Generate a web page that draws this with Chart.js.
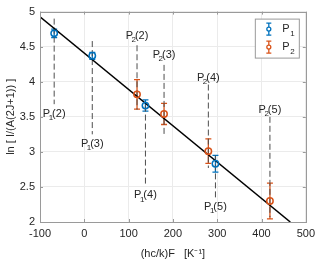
<!DOCTYPE html>
<html>
<head>
<meta charset="utf-8">
<script src="https://cdn.jsdelivr.net/npm/chart.js@4.4.0/dist/chart.umd.min.js"></script>
<style>
  html, body { margin: 0; padding: 0; background: #fff; }
</style>
</head>
<body>
<canvas id="chart" width="320" height="265"></canvas>
<script>
// P1 points
var p1X = [-68, 18, 138, 296];
var p1Y = [4.69, 4.37, 3.66, 2.83];
var p1Err = [0.06, 0.05, 0.08, 0.12];
var p1Names = ['2', '3', '4', '5'];
var p1DashTop = [4.90, 4.58, 3.66, 2.95];
var p1DashBot = [3.68, 3.25, 2.52, 2.31];
var p1LabelY = [3.54, 3.11, 2.38, 2.21];

// P2 points
var p2X = [119, 180, 280, 419];
var p2Y = [3.82, 3.54, 3.01, 2.30];
var p2Err = [0.21, 0.15, 0.175, 0.255];
var p2Names = ['2', '3', '4', '5'];
var p2DashTop = [4.52, 4.24, 3.96, 3.50];
var p2DashBot = [3.60, 3.25, 2.77, 2.07];
var p2LabelY = [4.65, 4.38, 4.06, 3.60];

// linear fit
var fitX = [-100, 465];
var fitY = [4.925, 2.0];

var xTicks = [-100, 0, 100, 200, 300, 400, 500];
var yTicks = [2, 2.5, 3, 3.5, 4, 4.5, 5];

var blue = '#0072BD';
var orange = '#D95319';
var textColor = '#262626';
var boxColor = '#9a9a9a';
var fontFam = "'Liberation Sans', Arial, sans-serif";

function pts(xs, ys) {
  return xs.map(function (x, i) { return { x: x, y: ys[i] }; });
}

var datasets = [];

// dashed guide lines
function addDashes(xs, tops, bots) {
  for (var i = 0; i < xs.length; i++) {
    datasets.push({
      data: [{ x: xs[i], y: tops[i] }, { x: xs[i], y: bots[i] }],
      showLine: true,
      borderColor: '#4d4d4d',
      borderWidth: 1,
      borderDash: [6, 3],
      pointRadius: 0,
      order: 5
    });
  }
}
addDashes(p1X, p1DashTop, p1DashBot);
addDashes(p2X, p2DashTop, p2DashBot);

datasets.push({
  data: pts(fitX, fitY),
  showLine: true,
  borderColor: '#000',
  borderWidth: 1.5,
  pointRadius: 0,
  order: 4
});

datasets.push({
  label: 'P1',
  data: pts(p1X, p1Y),
  borderColor: blue,
  backgroundColor: 'rgba(0,0,0,0)',
  pointRadius: 3.2,
  pointBorderWidth: 1.5,
  showLine: false,
  order: 1
});
datasets.push({
  label: 'P2',
  data: pts(p2X, p2Y),
  borderColor: orange,
  backgroundColor: 'rgba(0,0,0,0)',
  pointRadius: 3.2,
  pointBorderWidth: 1.5,
  showLine: false,
  order: 1
});

// draws "P" + subscript + rest, centred on cx
function subText(ctx, cx, cy, sub, rest, size, tight) {
  ctx.font = size + 'px ' + fontFam;
  var wP = ctx.measureText('P').width;
  var wR = ctx.measureText(rest).width;
  ctx.font = (size - 3) + 'px ' + fontFam;
  var wS = ctx.measureText(sub).width;
  var subOff = tight ? wP - 1.5 : wP + 0.5;
  var restOff = tight ? wP + wS - 2.5 : wP + wS + 1;
  var total = restOff + wR;
  var x0 = cx - total / 2;
  ctx.textBaseline = 'middle';
  ctx.textAlign = 'left';
  ctx.fillStyle = textColor;
  ctx.font = size + 'px ' + fontFam;
  ctx.fillText('P', x0, cy);
  ctx.fillText(rest, x0 + restOff, cy);
  ctx.font = (size - 3) + 'px ' + fontFam;
  ctx.fillText(sub, x0 + subOff, cy + 4);
}

function drawErrBar(ctx, x, yTop, yBot, color, cap) {
  ctx.strokeStyle = color;
  ctx.lineWidth = 1.3;
  ctx.beginPath();
  ctx.moveTo(x, yTop); ctx.lineTo(x, yBot);
  ctx.moveTo(x - cap, yTop); ctx.lineTo(x + cap, yTop);
  ctx.moveTo(x - cap, yBot); ctx.lineTo(x + cap, yBot);
  ctx.stroke();
}

var extras = {
  id: 'extras',
  beforeDatasetsDraw: function (chart) {
    var ctx = chart.ctx, xs = chart.scales.x, ys = chart.scales.y;
    ctx.save();
    [[p1X, p1Y, p1Err, blue], [p2X, p2Y, p2Err, orange]].forEach(function (s) {
      for (var i = 0; i < s[0].length; i++) {
        var px = xs.getPixelForValue(s[0][i]);
        drawErrBar(ctx, px, ys.getPixelForValue(s[1][i] + s[2][i]),
          ys.getPixelForValue(s[1][i] - s[2][i]), s[3], 3);
      }
    });
    ctx.restore();
  },
  afterDatasetsDraw: function (chart) {
    var ctx = chart.ctx, xs = chart.scales.x, ys = chart.scales.y;
    var a = chart.chartArea;
    ctx.save();
    // point labels
    for (var i = 0; i < p1X.length; i++) {
      subText(ctx, xs.getPixelForValue(p1X[i]), ys.getPixelForValue(p1LabelY[i]), '1', '(' + p1Names[i] + ')', 11, true);
      subText(ctx, xs.getPixelForValue(p2X[i]), ys.getPixelForValue(p2LabelY[i]), '2', '(' + p2Names[i] + ')', 11, true);
    }
    // axes box and inward ticks
    ctx.strokeStyle = boxColor;
    ctx.lineWidth = 1;
    ctx.strokeRect(Math.round(a.left) + 0.5, Math.round(a.top) + 0.5,
      Math.round(a.right - a.left), Math.round(a.bottom - a.top));
    ctx.beginPath();
    xTicks.forEach(function (v) {
      var px = Math.round(xs.getPixelForValue(v)) + 0.5;
      ctx.moveTo(px, a.bottom); ctx.lineTo(px, a.bottom - 3);
      ctx.moveTo(px, a.top); ctx.lineTo(px, a.top + 3);
    });
    yTicks.forEach(function (v) {
      var py = Math.round(ys.getPixelForValue(v)) + 0.5;
      ctx.moveTo(a.left, py); ctx.lineTo(a.left + 3, py);
      ctx.moveTo(a.right, py); ctx.lineTo(a.right - 3, py);
    });
    ctx.stroke();
    // legend
    var lx = a.right - 50.5, ly = a.top + 7.5, lw = 44, lh = 39;
    ctx.fillStyle = '#fff';
    ctx.fillRect(lx, ly, lw, lh);
    ctx.strokeStyle = '#999';
    ctx.strokeRect(lx, ly, lw, lh);
    [[blue, '1', 10], [orange, '2', 28]].forEach(function (it) {
      var mx = lx + 13.5, my = ly + it[2];
      drawErrBar(ctx, mx, my - 6, my + 6, it[0], 2.5);
      ctx.beginPath();
      ctx.fillStyle = '#fff';
      ctx.arc(mx, my, 2, 0, Math.PI * 2);
      ctx.fill();
      ctx.stroke();
      ctx.font = '11px ' + fontFam;
      ctx.fillStyle = textColor;
      ctx.textAlign = 'left';
      ctx.textBaseline = 'middle';
      ctx.fillText('P', lx + 27, my);
      ctx.font = '8px ' + fontFam;
      ctx.fillText(it[1], lx + 35, my + 5);
    });
    ctx.restore();
  }
};

new Chart(document.getElementById('chart'), {
  type: 'scatter',
  data: { datasets: datasets },
  options: {
    responsive: false,
    animation: false,
    layout: { padding: { top: 8, right: 14, left: 0, bottom: 0 } },
    plugins: { legend: { display: false }, tooltip: { enabled: false } },
    scales: {
      x: {
        type: 'linear',
        min: -100,
        max: 500,
        afterBuildTicks: function (scale) {
          scale.ticks = xTicks.map(function (v) { return { value: v }; });
        },
        afterFit: function (scale) { scale.height = 43; },
        grid: { color: '#ebebeb', drawTicks: false },
        border: { display: false },
        ticks: {
          color: textColor, font: { family: fontFam, size: 11 }, padding: 5, maxRotation: 0,
          callback: function (v) { return String(v); }
        },
        title: {
          display: true,
          text: '(hc/k)F   [K\u207B\u00B9]',
          color: textColor,
          font: { family: fontFam, size: 11 },
          padding: { top: 2, bottom: 4 }
        }
      },
      y: {
        type: 'linear',
        min: 2,
        max: 5,
        afterBuildTicks: function (scale) {
          scale.ticks = yTicks.map(function (v) { return { value: v }; });
        },
        afterFit: function (scale) { scale.width = 40; },
        grid: { color: '#ebebeb', drawTicks: false },
        border: { display: false },
        ticks: {
          color: textColor, font: { family: fontFam, size: 11 }, padding: 5,
          callback: function (v) { return String(v); }
        },
        title: {
          display: true,
          text: 'ln [ I/(A(2J+1)) ]',
          color: textColor,
          font: { family: fontFam, size: 11 },
          padding: { top: 4, bottom: 2 }
        }
      }
    }
  },
  plugins: [extras]
});
</script>
</body>
</html>
